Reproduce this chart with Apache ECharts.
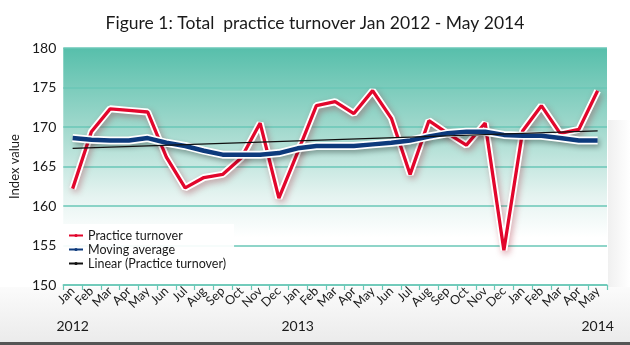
<!DOCTYPE html>
<html>
<head>
<meta charset="utf-8">
<style>
html,body{margin:0;padding:0;background:#fff;}
#chart{width:630px;height:345px;}
</style>
<script src="https://cdn.jsdelivr.net/npm/echarts@6/dist/echarts.min.js"></script>
</head>
<body>
<div id="chart"></div>
<script>
const months = ['Jan','Feb','Mar','Apr','May','Jun','Jul','Aug','Sep','Oct','Nov','Dec',
                'Jan','Feb','Mar','Apr','May','Jun','Jul','Aug','Sep','Oct','Nov','Dec',
                'Jan','Feb','Mar','Apr','May'];
const years = ['2012','','','','','','','','','','','',
               '2013','','','','','','','','','','','',
               '','','','','2014'];
const turnover = [162.2,169.4,172.3,172.1,171.9,166.2,162.3,163.6,164.0,166.1,170.5,161.0,
                  166.8,172.7,173.2,171.7,174.6,171.1,164.0,170.8,169.2,167.7,170.5,154.4,
                  169.5,172.7,169.2,169.7,174.6];
const movingAvg = [168.6,168.4,168.3,168.3,168.6,168.0,167.6,167.0,166.5,166.5,166.5,166.7,
                   167.3,167.6,167.6,167.6,167.8,168.0,168.3,168.8,169.2,169.4,169.4,169.0,
                   168.9,168.9,168.6,168.3,168.3];
const trendStart = 167.3;
const trendEnd = 169.5;
const yTicks = {min:150, max:180, interval:5};

const trend = months.map((m,i)=> i===0 ? trendStart : (i===months.length-1 ? trendEnd : null));

const FONT = 'Lato';
const teal = '#6ac7b7';

const chart = echarts.init(document.getElementById('chart'));
chart.setOption({
  animation:false,
  backgroundColor:'#ffffff',
  textStyle:{fontFamily:FONT},
  title:{
    text:'Figure 1: Total  practice turnover Jan 2012 - May 2014',
    left:'center', top:9,
    textStyle:{fontFamily:FONT,fontSize:17.5,fontWeight:'normal',color:'#1a1a1a'}
  },
  graphic:[
    {type:'rect', shape:{x:0,y:287,width:630,height:55}, silent:true,
     style:{fill:new echarts.graphic.LinearGradient(0,0,0,1,[
       {offset:0,color:'#fbfbfb'},{offset:1,color:'#ebebeb'}])}},
    {type:'rect', shape:{x:608,y:120,width:22,height:167}, silent:true,
     style:{fill:new echarts.graphic.LinearGradient(0,0,1,0,[
       {offset:0,color:'#f0f0f0'},{offset:1,color:'#ffffff'}])}},
    {type:'rect', shape:{x:0,y:342,width:630,height:3}, silent:true,
     style:{fill:'#555555'}}
  ],
  grid:{
    left:60, right:23, top:48, bottom:60, show:true, borderWidth:0,
    backgroundColor:new echarts.graphic.LinearGradient(0,0,0,1,[
      {offset:0,color:'#57bfab'},
      {offset:0.33,color:'#9fd8cc'},
      {offset:0.62,color:'#e4f3f0'},
      {offset:0.8,color:'#ffffff'},
      {offset:1,color:'#ffffff'}])
  },
  legend:{
    orient:'vertical', left:60, top:224,
    data:['Practice turnover','Moving average','Linear (Practice turnover)'],
    backgroundColor:'rgba(255,255,255,0.92)',
    padding:[5,8,5,8], itemGap:1, itemWidth:14, itemHeight:4,
    textStyle:{fontFamily:FONT,fontSize:12.5,color:'#1a1a1a'}
  },
  xAxis:[{
    type:'category', data:months, boundaryGap:true,
    axisLine:{lineStyle:{color:teal,width:1.5}},
    axisTick:{show:true,length:5,interval:0,lineStyle:{color:teal,width:1.2}},
    axisLabel:{interval:0,rotate:45,fontSize:12.5,color:'#1a1a1a',margin:4,fontFamily:FONT},
    splitLine:{show:false}
  },{
    type:'category', data:years, boundaryGap:true, position:'bottom', offset:28,
    axisLine:{show:false}, axisTick:{show:false},
    axisLabel:{interval:0,fontSize:14,color:'#1a1a1a',margin:6,fontFamily:FONT},
    splitLine:{show:false}
  }],
  yAxis:{
    type:'value', min:yTicks.min, max:yTicks.max, interval:yTicks.interval,
    name:'Index value', nameLocation:'middle', nameGap:36,
    nameTextStyle:{fontFamily:FONT,fontSize:13,color:'#1a1a1a'},
    axisLine:{show:false}, axisTick:{show:false},
    axisLabel:{fontSize:14,color:'#1a1a1a',margin:7,fontFamily:FONT},
    splitLine:{lineStyle:{color:teal,width:1.5}}
  },
  series:[
    {name:'turnover-outline', type:'line', data:turnover, symbol:'none', silent:true,
     lineStyle:{color:'#ffffff',width:7,shadowColor:'rgba(160,20,40,0.35)',shadowBlur:6,shadowOffsetX:2,shadowOffsetY:3}},
    {name:'Practice turnover', type:'line', data:turnover, symbol:'none',
     itemStyle:{color:'#e2062c'}, lineStyle:{color:'#e2062c',width:3.3}},
    {name:'ma-outline', type:'line', data:movingAvg, symbol:'none', silent:true,
     lineStyle:{color:'#ffffff',width:8,shadowColor:'rgba(0,0,0,0.3)',shadowBlur:5,shadowOffsetX:2,shadowOffsetY:3}},
    {name:'Moving average', type:'line', data:movingAvg, symbol:'none',
     itemStyle:{color:'#0d3a7c'}, lineStyle:{color:'#0d3a7c',width:4.5}},
    {name:'Linear (Practice turnover)', type:'line', data:trend, symbol:'none', connectNulls:true,
     itemStyle:{color:'#111'}, lineStyle:{color:'#111',width:1.3}}
  ]
});
</script>
</body>
</html>
